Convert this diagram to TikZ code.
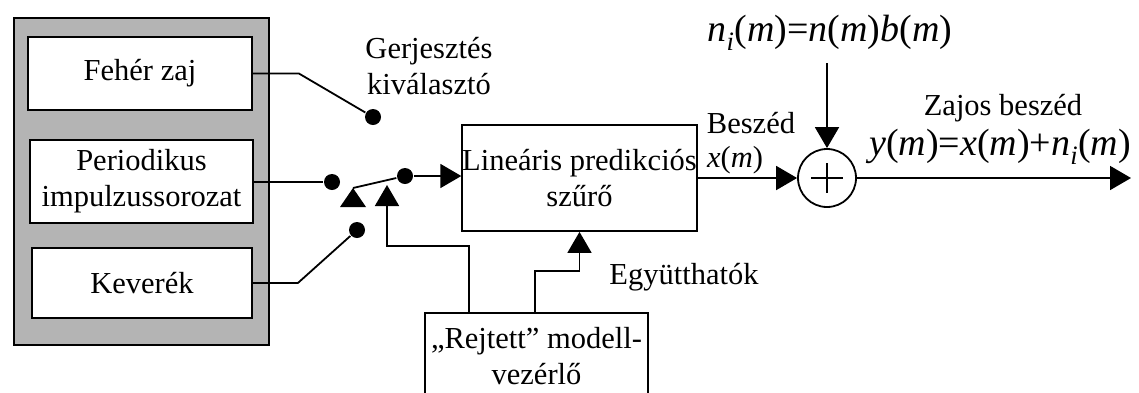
\documentclass[tikz,border=0pt]{standalone}
\usepackage{fontspec}
\setmainfont{Liberation Serif}
\usetikzlibrary{arrows.meta}
\definecolor{panel}{RGB}{180,180,180}
\newcommand\labfont{\fontsize{30.5}{36}\selectfont}
\newcommand\eqfont{\fontsize{38}{44}\selectfont}
\newcommand\mvar[1]{\textit{#1}}
\newcommand\msub[1]{\textsubscript{\textit{#1}}}
\begin{document}
\begin{tikzpicture}[x=1pt,y=-1pt,
  line width=1.8pt,
  >={Triangle[length=21pt,width=24pt]},
  box/.style={draw,fill=white,inner sep=0pt,align=center,font=\labfont},
  lbl/.style={inner sep=0pt,align=center,font=\labfont},
  dot/.style={circle,fill,inner sep=0pt,minimum size=16pt},
]
\useasboundingbox (0,0) rectangle (1139,392);
\fill[white] (0,0) rectangle (1139,392);

% excitation sources
\node[draw,fill=panel,minimum width=255pt,minimum height=327pt] (src) at (141.5,181.5) {};
\node[box,minimum width=224pt,minimum height=73pt] (wn) at (140,73.5) {Fehér zaj};
\node[box,minimum width=223pt,minimum height=83pt] (pi) at (141.5,181.5) {Periodikus\\impulzussorozat};
\node[box,minimum width=220pt,minimum height=70pt] (mx) at (142,283) {Keverék};

% selector switch
\node[lbl] (gk) at (429,66) {Gerjesztés\\kiválasztó};
\node[dot] (d1) at (373,117) {};
\node[dot] (d2) at (332,182) {};
\node[dot] (d3) at (357,230) {};
\node[dot] (d4) at (405,176) {};
\coordinate (piv) at (353,188);
\coordinate (ctlin) at (387,185);

\draw (wn.east) -- ++(46,0) -- (d1);
\draw (pi.east |- d2) -- (d2);
\draw (mx.east) -- ++(45,0) -- (d3);
\fill (piv) -- ++(-13,19) -- ++(26,0) -- cycle;
\draw (piv) -- (d4);

% filter and controller
\node[box,minimum width=233pt,minimum height=106pt] (lpf) at (579.5,178) {Lineáris predikciós\\szűrő};
\node[box,minimum width=223pt,minimum height=86pt] (ctl) at (536.5,356) {„Rejtett” modell-\\vezérlő};
\node[lbl] (egy) at (684,277) {Együtthatók};

\draw[->] (d4) -- (d4 -| lpf.west);
\draw[->] ([xshift=45pt]ctl.north west) -- ++(0,-66) -| (ctlin);
\draw[->] ([xshift=111pt]ctl.north west) -- ++(0,-41) -| (lpf.south);

% additive noise
\node[draw,circle,minimum size=58pt,inner sep=0pt] (sum) at (827,178) {};
\draw (sum.center) +(-16,0) -- +(16,0);
\draw (sum.center) +(0,-15) -- +(0,15);
\node[lbl,font=\eqfont] (nz) at (830,33) {\mvar{n}\msub{i}(\mvar{m})=\mvar{n}(\mvar{m})\mvar{b}(\mvar{m})};
\coordinate (nzin) at (827,63);
\coordinate (out) at (1131,178);

\node[lbl] (bsz) at (751,123) {Beszéd};
\node[lbl] (xm) at (735,160) {\mvar{x}(\mvar{m})};
\node[lbl] (zb) at (1003,108) {Zajos beszéd};
\node[lbl,font=\eqfont] (ym) at (1000,147) {\mvar{y}(\mvar{m})=\mvar{x}(\mvar{m})+\mvar{n}\msub{i}(\mvar{m})};

\draw[->] (lpf.east) -- (sum.west);
\draw[->] (nzin) -- (sum.north);
\draw[->] (sum.east) -- (out);
\end{tikzpicture}
\end{document}
